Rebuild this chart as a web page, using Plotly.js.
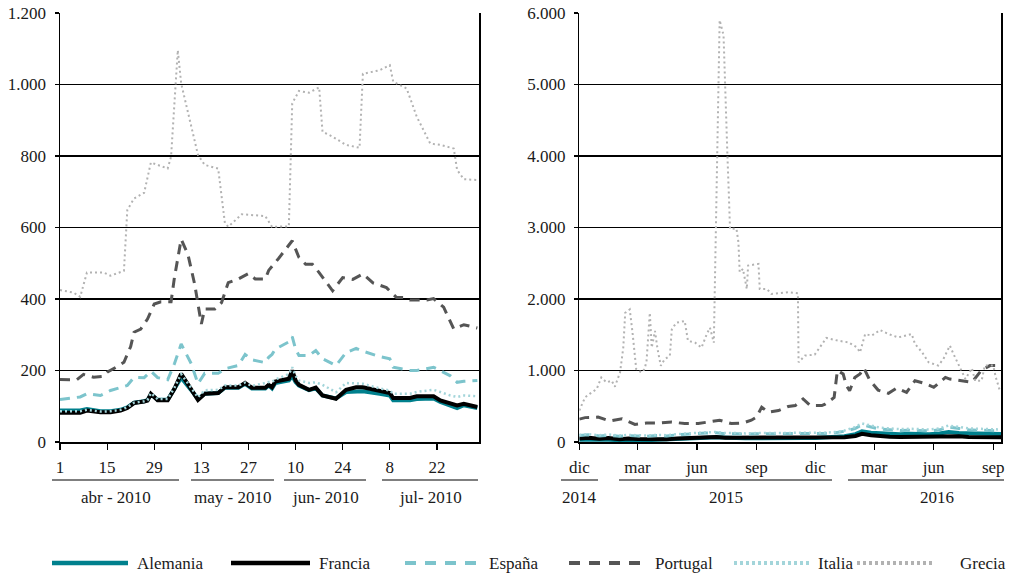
<!DOCTYPE html>
<html>
<head>
<meta charset="utf-8">
<script src="https://cdn.plot.ly/plotly-3.0.1.min.js"></script>
<style>html,body{margin:0;padding:0;background:#fff;}#chart{width:1010px;height:574px;}</style>
</head>
<body>
<div id="chart"></div>
<script>
// ---------- LEFT PANEL (2010) ----------
const L_LOW_DATES = ['2010-04-01','2010-04-07','2010-04-09','2010-04-13','2010-04-16','2010-04-19','2010-04-21','2010-04-23','2010-04-26','2010-04-27','2010-04-28','2010-04-30','2010-05-03','2010-05-05','2010-05-07','2010-05-10','2010-05-12','2010-05-14','2010-05-18','2010-05-20','2010-05-24','2010-05-26','2010-05-28','2010-06-01','2010-06-02','2010-06-03','2010-06-04','2010-06-08','2010-06-09','2010-06-10','2010-06-11','2010-06-14','2010-06-16','2010-06-18','2010-06-22','2010-06-25','2010-06-28','2010-06-30','2010-07-05','2010-07-08','2010-07-09','2010-07-14','2010-07-16','2010-07-21','2010-07-23','2010-07-26','2010-07-28','2010-07-30','2010-08-03'];
const L_FRANCIA  = [82,82,88,83,83,88,95,109,113,116,135,117,117,149,191,149,118,135,137,153,153,165,152,152,160,153,169,177,200,172,160,146,152,130,121,146,153,153,142,137,123,123,128,128,116,106,102,107,98];
const L_ALEMANIA = [88,88,92,86,86,90,97,110,114,117,133,118,118,148,180,145,120,135,137,152,152,163,150,150,158,150,165,172,185,168,158,145,150,130,122,140,142,142,135,130,117,117,120,122,112,100,95,103,95];
const L_ITALIA   = [86,86,90,85,86,90,97,110,114,117,137,120,120,152,190,150,125,145,146,158,158,166,157,165,168,168,175,190,209,185,172,165,167,160,139,165,163,163,150,144,135,135,140,146,140,130,126,130,128];
const L_ESPANA   = [119,126,135,130,144,152,158,181,180,189,198,180,174,219,274,219,163,192,192,205,214,245,230,222,237,245,260,280,295,260,242,242,256,233,214,250,262,254,239,233,209,200,200,209,200,185,167,170,172];

const L_PORT_DATES = ['2010-04-01','2010-04-06','2010-04-08','2010-04-11','2010-04-14','2010-04-15','2010-04-18','2010-04-20','2010-04-22','2010-04-23','2010-04-25','2010-04-27','2010-04-29','2010-05-01','2010-05-04','2010-05-05','2010-05-07','2010-05-09','2010-05-11','2010-05-13','2010-05-14','2010-05-17','2010-05-19','2010-05-21','2010-05-24','2010-05-27','2010-05-29','2010-06-01','2010-06-02','2010-06-05','2010-06-09','2010-06-11','2010-06-13','2010-06-15','2010-06-17','2010-06-21','2010-06-24','2010-06-27','2010-06-30','2010-07-03','2010-07-07','2010-07-10','2010-07-12','2010-07-14','2010-07-19','2010-07-21','2010-07-24','2010-07-27','2010-07-30','2010-08-03'];
const L_PORTUGAL = [175,174,189,181,184,195,211,223,267,307,316,344,386,392,392,460,567,525,442,330,372,372,390,446,456,471,456,456,480,514,563,516,497,497,474,423,460,455,470,445,432,404,404,397,397,401,377,316,328,319];

const L_GREC_DATES = ['2010-04-01','2010-04-05','2010-04-07','2010-04-09','2010-04-14','2010-04-16','2010-04-20','2010-04-21','2010-04-23','2010-04-26','2010-04-28','2010-05-03','2010-05-04','2010-05-06','2010-05-07','2010-05-10','2010-05-12','2010-05-14','2010-05-18','2010-05-20','2010-05-21','2010-05-25','2010-06-01','2010-06-03','2010-06-08','2010-06-09','2010-06-11','2010-06-14','2010-06-17','2010-06-18','2010-06-21','2010-06-25','2010-06-29','2010-06-30','2010-07-05','2010-07-08','2010-07-09','2010-07-13','2010-07-16','2010-07-20','2010-07-23','2010-07-27','2010-07-28','2010-07-30','2010-08-03'];
const L_GRECIA = [425,418,406,474,474,465,479,649,681,697,782,765,798,1096,1003,882,803,775,765,612,602,637,632,602,603,947,982,977,992,868,854,831,823,1030,1040,1054,1008,989,910,835,831,821,761,735,733];

const L_TICKS = ['2010-04-01','2010-04-15','2010-04-29','2010-05-13','2010-05-27','2010-06-10','2010-06-24','2010-07-08','2010-07-22'];
const L_TICK_TEXT = ['1','15','29','13','27','10','24','8','22'];
const L_MONTHS = ['abr - 2010','may - 2010','jun- 2010','jul- 2010'];

// ---------- RIGHT PANEL (2014-2016) ----------
const R_LOW_DATES = ['2014-12-01','2014-12-15','2015-01-01','2015-01-15','2015-02-01','2015-02-15','2015-03-01','2015-03-15','2015-04-01','2015-04-15','2015-05-01','2015-05-15','2015-06-01','2015-06-15','2015-07-01','2015-07-15','2015-08-01','2015-08-15','2015-09-01','2015-09-15','2015-10-01','2015-10-15','2015-11-01','2015-11-15','2015-12-01','2015-12-15','2016-01-01','2016-01-15','2016-02-01','2016-02-11','2016-02-25','2016-03-10','2016-03-25','2016-04-10','2016-04-25','2016-05-10','2016-05-25','2016-06-10','2016-06-24','2016-07-10','2016-07-25','2016-08-10','2016-08-25','2016-09-13'];
const R_FRANCIA  = [50,60,45,55,40,50,42,38,45,40,50,55,60,65,70,60,60,58,62,60,65,60,62,58,55,60,60,65,85,115,95,80,75,70,72,70,68,75,85,80,70,72,70,68];
const R_ALEMANIA = [30,35,28,32,25,30,28,25,30,28,35,45,55,60,65,55,55,52,55,55,60,58,60,55,55,60,65,80,110,150,130,120,115,110,115,110,108,120,140,125,115,118,115,112];
const R_ITALIA   = [100,110,95,105,90,100,95,90,100,95,110,120,130,135,140,125,125,120,125,125,130,125,128,122,120,130,140,160,210,260,230,200,190,180,185,180,175,190,230,210,190,185,180,175];
const R_ESPANA   = [90,100,85,95,80,90,85,80,90,85,100,110,120,125,130,115,115,110,115,115,120,115,118,112,110,120,130,150,190,240,210,180,170,160,165,160,155,170,210,190,170,165,160,155];

const R_PORT_DATES = ['2014-12-01','2014-12-10','2014-12-30','2015-01-17','2015-02-05','2015-02-25','2015-03-15','2015-04-02','2015-04-23','2015-05-13','2015-06-03','2015-06-18','2015-07-06','2015-07-24','2015-08-11','2015-08-24','2015-09-01','2015-09-09','2015-09-19','2015-10-05','2015-10-20','2015-10-31','2015-11-12','2015-11-23','2015-12-11','2015-12-16','2015-12-30','2016-01-04','2016-01-13','2016-01-18','2016-01-23','2016-01-31','2016-02-08','2016-02-14','2016-02-23','2016-03-07','2016-03-23','2016-04-05','2016-04-20','2016-05-03','2016-05-18','2016-06-01','2016-06-19','2016-06-26','2016-07-12','2016-07-30','2016-08-14','2016-08-27','2016-09-12'];
const R_PORTUGAL = [320,341,348,293,326,246,265,265,279,258,258,279,305,258,265,305,348,487,417,440,496,510,603,510,510,530,622,1000,951,788,718,903,951,1034,865,726,680,755,695,857,819,764,903,880,857,834,1005,1069,1069];

const R_GREC_DATES = ['2014-12-01','2014-12-03','2014-12-10','2014-12-17','2014-12-28','2015-01-04','2015-01-12','2015-01-20','2015-01-25','2015-02-02','2015-02-07','2015-02-10','2015-02-17','2015-02-21','2015-02-27','2015-03-07','2015-03-12','2015-03-15','2015-03-20','2015-03-23','2015-03-28','2015-04-01','2015-04-06','2015-04-12','2015-04-20','2015-04-23','2015-04-30','2015-05-13','2015-05-18','2015-05-29','2015-06-08','2015-06-16','2015-06-21','2015-06-27','2015-07-01','2015-07-06','2015-07-12','2015-07-14','2015-07-18','2015-07-20','2015-07-22','2015-08-01','2015-08-04','2015-08-06','2015-08-11','2015-08-17','2015-08-19','2015-09-04','2015-09-06','2015-09-17','2015-09-24','2015-10-20','2015-11-04','2015-11-05','2015-11-15','2015-11-30','2015-12-08','2015-12-18','2016-01-05','2016-01-21','2016-02-03','2016-02-08','2016-02-16','2016-02-26','2016-03-10','2016-03-23','2016-04-07','2016-04-28','2016-05-03','2016-05-14','2016-05-24','2016-06-08','2016-06-16','2016-06-26','2016-07-01','2016-07-09','2016-07-20','2016-07-30','2016-08-04','2016-08-14','2016-08-19','2016-09-01','2016-09-05','2016-09-12'];
const R_GRECIA = [440,487,626,673,742,903,834,858,774,973,1320,1807,1854,1553,1020,973,1020,1136,1807,1320,1553,1298,1066,1159,1205,1576,1668,1692,1414,1390,1320,1507,1599,1390,3266,5900,5690,5020,4010,3520,2982,2982,2795,2375,2421,2140,2468,2491,2140,2140,2070,2094,2080,1115,1209,1222,1324,1455,1417,1394,1324,1255,1510,1487,1566,1510,1463,1510,1371,1255,1115,1069,1162,1348,1241,1097,881,1032,857,857,1069,1069,903,695];

const R_TICKS = ['2014-12-01','2015-03-01','2015-06-01','2015-09-01','2015-12-01','2016-03-01','2016-06-01','2016-09-01'];
const R_TICK_TEXT = ['dic','mar','jun','sep','dic','mar','jun','sep'];
const R_YEARS = ['2014','2015','2016'];

const SERIES_NAMES = ['Alemania','Francia','España','Portugal','Italia','Grecia'];

// ---------- STYLES ----------
const STY = {
  'Alemania': {color:'#00808d', width:4, dash:'solid'},
  'Francia':  {color:'#000000', width:4, dash:'solid'},
  'España':   {color:'#7cc4cc', width:3, dash:'10px,7px'},
  'Portugal': {color:'#555555', width:3, dash:'10px,7px'},
  'Italia':   {color:'#a3d5da', width:2.5, dash:'2px,3px'},
  'Grecia':   {color:'#b2b2b2', width:2, dash:'2px,3px'}
};
const FONT = '"Liberation Serif", "DejaVu Serif", serif';

function tr(name, x, y, xa, ya) {
  const s = STY[name];
  return {type:'scatter', mode:'lines', name:name, x:x, y:y, xaxis:xa, yaxis:ya,
    line:{color:s.color, width:s.width, dash:s.dash}, showlegend:false, hoverinfo:'skip'};
}

const data = [
  tr('Alemania', L_LOW_DATES, L_ALEMANIA, 'x', 'y'),
  tr('Francia',  L_LOW_DATES, L_FRANCIA,  'x', 'y'),
  tr('España',   L_LOW_DATES, L_ESPANA,   'x', 'y'),
  tr('Portugal', L_PORT_DATES, L_PORTUGAL,'x', 'y'),
  tr('Italia',   L_LOW_DATES, L_ITALIA,   'x', 'y'),
  tr('Grecia',   L_GREC_DATES, L_GRECIA,  'x', 'y'),
  tr('Alemania', R_LOW_DATES, R_ALEMANIA, 'x2', 'y2'),
  tr('Francia',  R_LOW_DATES, R_FRANCIA,  'x2', 'y2'),
  tr('España',   R_LOW_DATES, R_ESPANA,   'x2', 'y2'),
  tr('Portugal', R_PORT_DATES, R_PORTUGAL,'x2', 'y2'),
  tr('Italia',   R_LOW_DATES, R_ITALIA,   'x2', 'y2'),
  tr('Grecia',   R_GREC_DATES, R_GRECIA,  'x2', 'y2')
];

const W = 1010, H = 574;
const px = v => v / W;
const py = v => 1 - v / H;

const tickFont = {family: FONT, size: 17, color: '#1a1a1a'};

const yCommon = {
  showgrid:true, gridcolor:'#000', gridwidth:1.2,
  showline:true, linecolor:'#000', linewidth:1.5, mirror:true,
  ticks:'outside', ticklen:4, tickcolor:'#000', tickwidth:1.2,
  tickformat:',d', tickfont:tickFont, zeroline:false, fixedrange:true,
  ticklabelstandoff:5
};
const xCommon = {
  type:'date', showgrid:false, showline:true, linecolor:'#000', linewidth:1.5,
  ticks:'outside', ticklen:6, tickcolor:'#000', tickwidth:1.2,
  tickfont:tickFont, zeroline:false, fixedrange:true, tickmode:'array',
  ticklabelstandoff:3
};

const shapes = [];
const annotations = [];

// group label lines + texts (left)
const L_GROUP_SPANS = [[52,179],[191,274],[284,366],[382,478]];
L_GROUP_SPANS.forEach((s,i) => {
  shapes.push({type:'line', xref:'paper', yref:'paper', x0:px(s[0]), x1:px(s[1]), y0:py(480), y1:py(480), line:{color:'#000', width:1.2}});
  annotations.push({xref:'paper', yref:'paper', x:px((s[0]+s[1])/2), y:py(497), text:L_MONTHS[i], showarrow:false, font:tickFont, xanchor:'center', yanchor:'middle'});
});
const R_GROUP_SPANS = [[561,598],[619,832],[848,1004]];
const R_YEAR_POS = [579, 726, 937];
R_GROUP_SPANS.forEach((s,i) => {
  shapes.push({type:'line', xref:'paper', yref:'paper', x0:px(s[0]), x1:px(s[1]), y0:py(480), y1:py(480), line:{color:'#000', width:1.2}});
  annotations.push({xref:'paper', yref:'paper', x:px(R_YEAR_POS[i]), y:py(497), text:R_YEARS[i], showarrow:false, font:tickFont, xanchor:'center', yanchor:'middle'});
});

// custom legend
const LEG = [[52,128,135],[231,310,317],[405,480,487],[569,646,653],[734,810,816],[857,934,958]];
SERIES_NAMES.forEach((n,i) => {
  const s = STY[n];
  const g = LEG[i];
  shapes.push({type:'line', xref:'paper', yref:'paper', x0:px(g[0]), x1:px(g[1]), y0:py(563), y1:py(563),
    line:{color:s.color, width: n==='Alemania'||n==='Francia' ? 4.5 : 4, dash: n==='España'||n==='Portugal' ? '11px,9px' : (n==='Italia'||n==='Grecia' ? '3px,3px' : 'solid')}});
  annotations.push({xref:'paper', yref:'paper', x:px(g[2]), y:py(563), text:n, showarrow:false, font:{family:FONT, size:17, color:'#1a1a1a'}, xanchor:'left', yanchor:'middle'});
});

const layout = {
  width:W, height:H, margin:{l:0, r:0, t:0, b:0},
  paper_bgcolor:'#fff', plot_bgcolor:'#fff',
  separators:',.', showlegend:false, font:{family:FONT},
  xaxis: Object.assign({}, xCommon, {domain:[px(60), px(479)], range:['2010-04-01','2010-08-03 12:00'], tickvals:L_TICKS, ticktext:L_TICK_TEXT, anchor:'y'}),
  yaxis: Object.assign({}, yCommon, {domain:[py(442), py(13)], range:[0,1200], dtick:200, tick0:0, anchor:'x'}),
  xaxis2: Object.assign({}, xCommon, {domain:[px(579.3), px(1001)], range:['2014-12-01','2016-09-13'], tickvals:R_TICKS, ticktext:R_TICK_TEXT, anchor:'y2'}),
  yaxis2: Object.assign({}, yCommon, {domain:[py(442), py(13)], range:[0,6000], dtick:1000, tick0:0, anchor:'x2'}),
  shapes: shapes, annotations: annotations
};

Plotly.newPlot('chart', data, layout, {staticPlot:true, displayModeBar:false});
</script>
</body>
</html>
